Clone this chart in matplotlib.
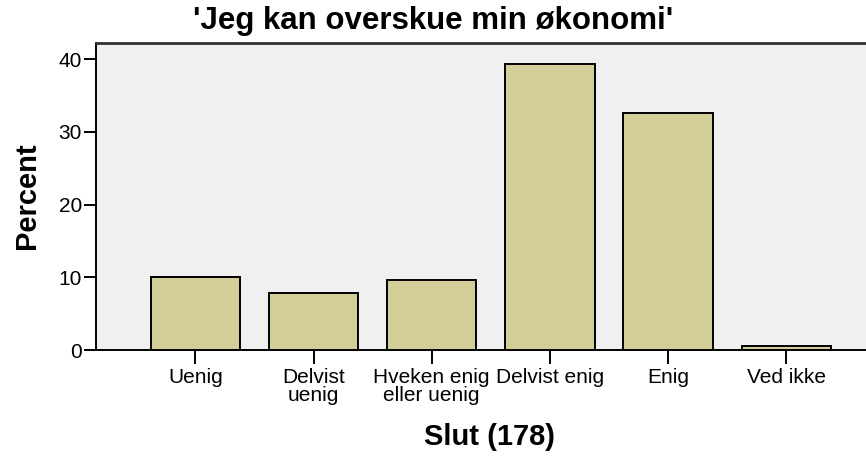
import matplotlib
matplotlib.use("Agg")
import matplotlib.pyplot as plt

plt.rcParams['font.family'] = ['Liberation Sans', 'DejaVu Sans']

categories = ['Uenig', 'Delvist\nuenig', 'Hveken enig\neller uenig',
              'Delvist enig', 'Enig', 'Ved ikke']
percent = [10.1, 7.9, 9.6, 39.3, 32.6, 0.6]
yticks = [0, 10, 20, 30, 40]

fig = plt.figure(figsize=(8.66, 4.57), dpi=100)
ax = fig.add_axes([96/866, 1 - 350/457, 1 - 96/866 + 0.002, (350 - 43)/457])
ax.set_facecolor('#f0f0f0')

x = list(range(len(categories)))
ax.bar(x, percent, width=0.756, color='#d3ce97', edgecolor='black',
       linewidth=1.4, zorder=3)

ax.set_xlim(-0.841, 5.69)
ax.set_ylim(0, 42.2)
ax.set_yticks(yticks)
ax.set_xticks(x)
ax.set_xticklabels(categories, fontsize=15, linespacing=0.95)
ax.tick_params(axis='y', labelsize=15, length=9, width=1.4, pad=1)
ax.tick_params(axis='x', length=10, width=1.4, pad=3)

for side in ['left', 'bottom']:
    ax.spines[side].set_linewidth(1.4)
    ax.spines[side].set_color('black')
ax.spines['top'].set_linewidth(2)
ax.spines['top'].set_color('#333333')
ax.spines['right'].set_visible(False)

fig.text(27/866, 1 - 196/457, 'Percent', fontsize=21, fontweight='bold',
         rotation=90, ha='center', va='center')
fig.text(490/866, 1 - 437/457, 'Slut (178)', fontsize=21, fontweight='bold',
         ha='center', va='center')
fig.text(0.5, 1 - 21/457, "'Jeg kan overskue min økonomi'", fontsize=22.5,
         fontweight='bold', ha='center', va='center')

fig.savefig('out.png', dpi=100)
